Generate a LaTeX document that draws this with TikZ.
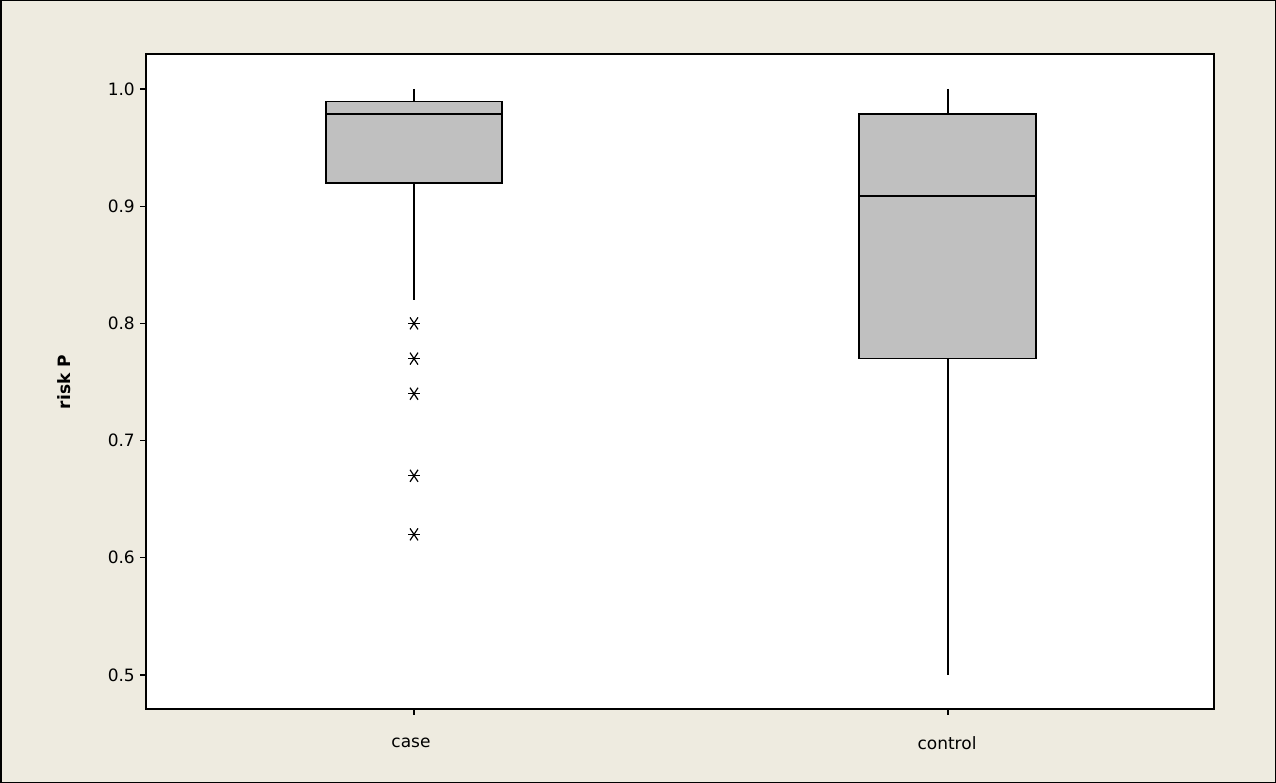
\documentclass[tikz,border=0pt]{standalone}
\usepackage{fontspec}
\setmainfont{DejaVu Sans}
\definecolor{bg}{HTML}{EEEBE0}
\definecolor{boxc}{HTML}{C0C0C0}
\begin{document}
\begin{tikzpicture}[x=1pt,y=-1pt,
  lbl/.style={font=\fontsize{17}{20}\selectfont,inner sep=0pt},
  bx/.style={draw=black,fill=boxc,line width=1.2pt},
  ln/.style={line width=1.2pt},
  star/.style={ln}]
\useasboundingbox (0,0) rectangle (1276,783);
\fill[bg,draw=black,line width=1.5pt] (0.75,0.75) rectangle (1275.25,782.25);
\fill[white,draw=black,line width=1.2pt] (146,54) rectangle (1214,709);
% y ticks
\foreach \v/\t in {89/1.0,206.2/0.9,323.4/0.8,440.6/0.7,557.8/0.6,675/0.5}{
  \draw[ln] (140,\v) -- (146,\v);
  \node[lbl,anchor=east] (t\t) at (135,\v) {\t};
}
\node[lbl,font=\bfseries\fontsize{17}{20}\selectfont,rotate=90] (ylab) at (64,382) {risk P};
% x ticks
\draw[ln] (414,709) -- (414,715);
\draw[ln] (948,709) -- (948,715);
\node[lbl] (xcase) at (411,743) {case};
\node[lbl] (xctrl) at (947,743) {control};
% case box
\draw[ln] (414,89) -- (414,101.6);
\draw[ln] (414,183) -- (414,300);
\draw[bx] (326,101.6) rectangle (502,183);
\draw[ln] (326,114) -- (502,114);
% outliers
\foreach \v in {323.4,358.6,393.7,475.8,534.4}{
  \draw[star] (408,\v) -- (420,\v);
  \draw[star] (410,\v-6) -- (418,\v+6);
  \draw[star] (418,\v-6) -- (410,\v+6);
}
% control box
\draw[ln] (948,89) -- (948,114);
\draw[ln] (948,358.6) -- (948,675);
\draw[bx] (859,114) rectangle (1036,358.6);
\draw[ln] (859,196) -- (1036,196);
\end{tikzpicture}
\end{document}
